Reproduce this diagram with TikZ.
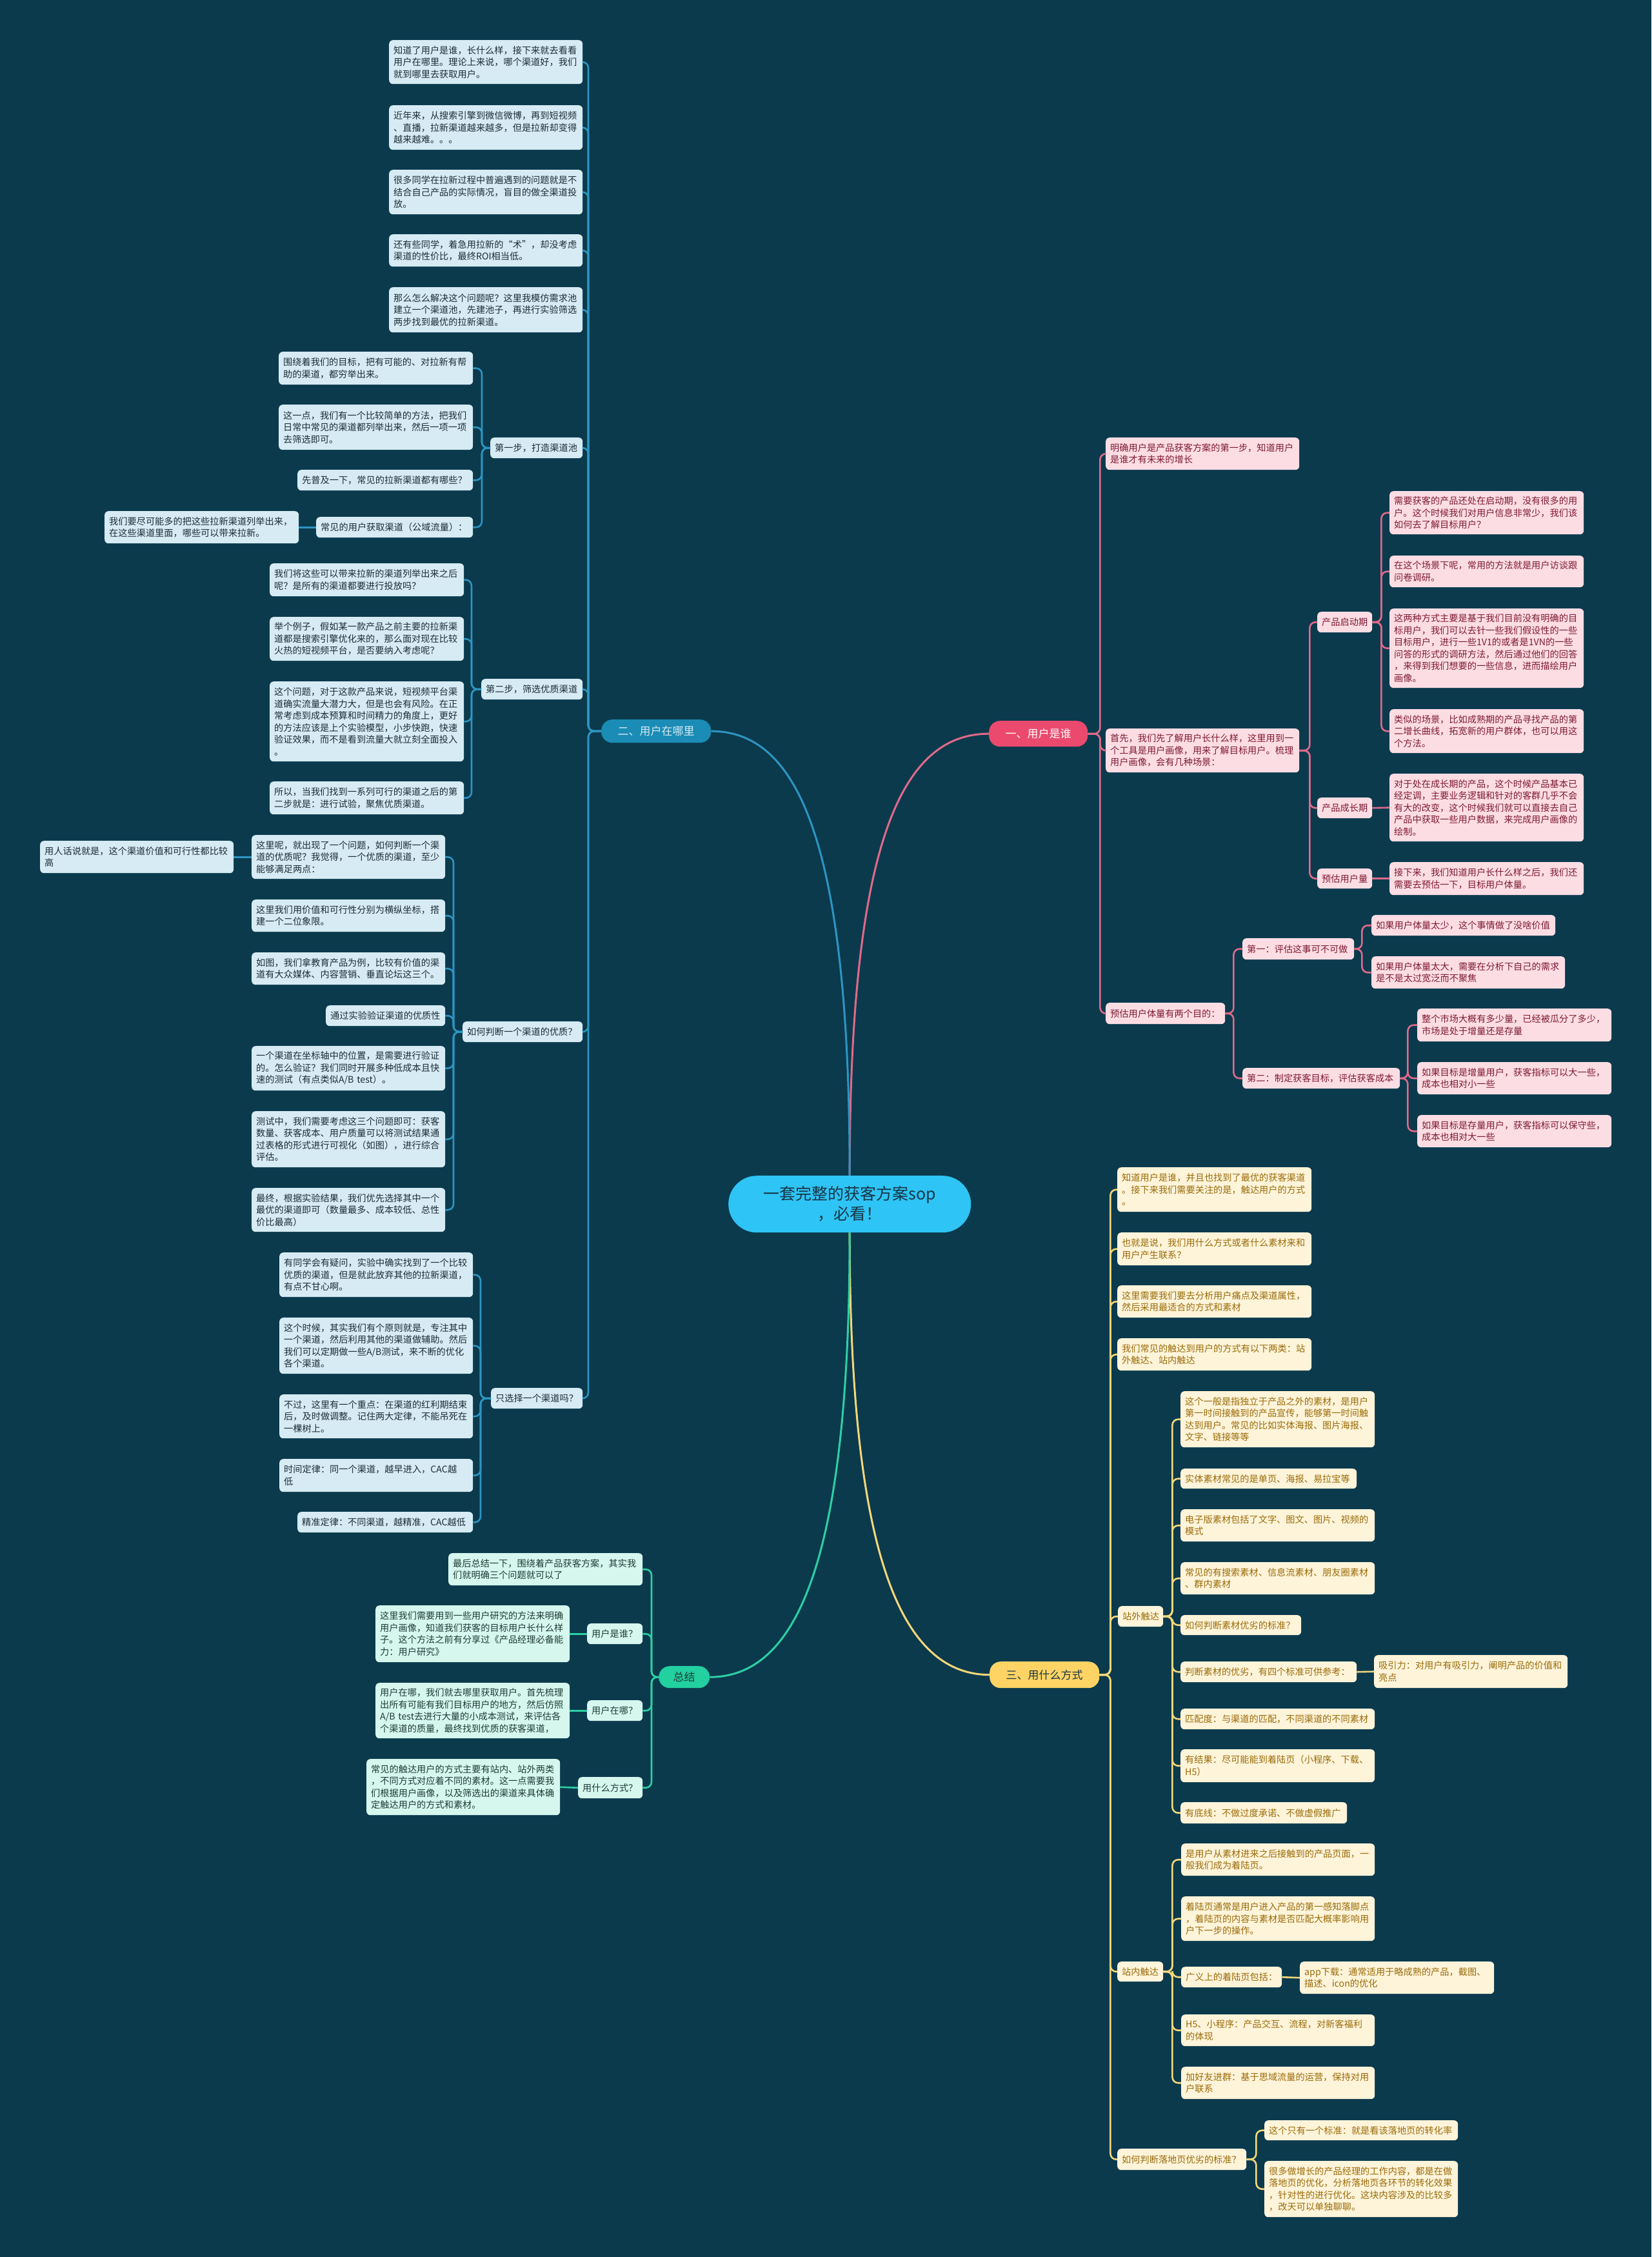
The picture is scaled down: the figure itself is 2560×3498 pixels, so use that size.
\documentclass[tikz,border=0pt]{standalone}
\usepackage{fontspec}
\setmainfont{Noto Sans CJK SC}
\definecolor{bg}{HTML}{0B3A4D}
\definecolor{bline}{HTML}{2D95C2}
\definecolor{bfill}{HTML}{D6EBF3}
\definecolor{btext}{HTML}{1D2D38}
\definecolor{bnode}{HTML}{1A8CB5}
\definecolor{pline}{HTML}{E06A8A}
\definecolor{pfill}{HTML}{FDDDE4}
\definecolor{ptext}{HTML}{7D1A33}
\definecolor{pnode}{HTML}{EB4A6E}
\definecolor{yline}{HTML}{F5D77A}
\definecolor{yfill}{HTML}{FEF4DA}
\definecolor{ytext}{HTML}{9A6B08}
\definecolor{ynode}{HTML}{FFD465}
\definecolor{gline}{HTML}{2DD0A4}
\definecolor{gfill}{HTML}{D6F7EE}
\definecolor{gtext}{HTML}{1F3B36}
\definecolor{gnode}{HTML}{22D0A0}
\definecolor{rootfill}{HTML}{2EC4F5}
\definecolor{roottext}{HTML}{173544}
\newcommand\fs{\fontsize{14.2}{18.5}\selectfont}
\newcommand\mynode[7]{\node[#1,minimum width=#5pt,minimum height=#6pt,text width=#5pt-14pt] (#2) at (#3,#4) {#7};}
\tikzset{
  boxbase/.style={anchor=north west, rounded corners=6pt, inner xsep=7pt, inner ysep=0pt, align=left, font=\fs},
  bb/.style={boxbase, fill=bfill, text=btext},
  pb/.style={boxbase, fill=pfill, text=ptext},
  yb/.style={boxbase, fill=yfill, text=ytext},
  gb/.style={boxbase, fill=gfill, text=gtext},
  branch/.style={anchor=north west, rounded corners=17pt, inner sep=0pt, align=center, font=\fontsize{17}{20}\selectfont},
  lk/.style={line width=2.6pt, rounded corners=9pt},
  bl/.style={lk, draw=bline},
  pl/.style={lk, draw=pline},
  yl/.style={lk, draw=yline},
  gl/.style={lk, draw=gline},
  rl/.style={line width=3pt},
}
\begin{document}
\begin{tikzpicture}[x=1pt,y=-1pt]
\fill[bg] (0,0) rectangle (2560,3498);
\useasboundingbox (0,0) rectangle (2560,3498);

% root
\node[anchor=north west, fill=rootfill, text=roottext, rounded corners=44pt, minimum width=376pt, minimum height=88pt, inner sep=0pt, align=center, font=\fontsize{25}{31}\selectfont] (root) at (1129,1822) {一套完整的获客方案sop\\，必看！};

% branch nodes
\node[branch, fill=pnode, text=white, minimum width=153pt, minimum height=40pt] (B1) at (1533,1117) {一、用户是谁};
\node[branch, fill=bnode, text=bfill, minimum width=170pt, minimum height=36pt] (B2) at (932,1115) {二、用户在哪里};
\node[branch, fill=ynode, text=roottext, minimum width=170pt, minimum height=41pt] (B3) at (1534,2575) {三、用什么方式};
\node[branch, fill=gnode, text=gtext, minimum width=79pt, minimum height=34pt] (B4) at (1021,2582) {总结};

% ===== blue branch =====
\mynode{bb}{b1}{603}{62}{300}{68}{知道了用户是谁，长什么样，接下来就去看看\\用户在哪里。理论上来说，哪个渠道好，我们\\就到哪里去获取用户。}
\mynode{bb}{b2}{603}{163}{300}{69}{近年来，从搜索引擎到微信微博，再到短视频\\、直播，拉新渠道越来越多，但是拉新却变得\\越来越难。。。}
\mynode{bb}{b3}{603}{263}{300}{69}{很多同学在拉新过程中普遍遇到的问题就是不\\结合自己产品的实际情况，盲目的做全渠道投\\放。}
\mynode{bb}{b4}{603}{363}{300}{50}{还有些同学，着急用拉新的“术”，却没考虑\\渠道的性价比，最终ROI相当低。}
\mynode{bb}{b5}{603}{445}{300}{70}{那么怎么解决这个问题呢？这里我模仿需求池\\建立一个渠道池，先建池子，再进行实验筛选\\两步找到最优的拉新渠道。}

\mynode{bb}{s1}{760}{678}{143}{32}{第一步，打造渠道池}
\mynode{bb}{s1a}{432}{545}{301}{51}{围绕着我们的目标，把有可能的、对拉新有帮\\助的渠道，都穷举出来。}
\mynode{bb}{s1b}{432}{627}{301}{70}{这一点，我们有一个比较简单的方法，把我们\\日常中常见的渠道都列举出来，然后一项一项\\去筛选即可。}
\mynode{bb}{s1c}{461}{728}{272}{32}{先普及一下，常见的拉新渠道都有哪些？}
\mynode{bb}{s1d}{490}{801}{243}{32}{常见的用户获取渠道（公域流量）：}
\mynode{bb}{s1d1}{162}{792}{301}{50}{我们要尽可能多的把这些拉新渠道列举出来，\\在这些渠道里面，哪些可以带来拉新。}

\mynode{bb}{s2}{746}{1052}{157}{32}{第二步，筛选优质渠道}
\mynode{bb}{s2a}{418}{873}{301}{51}{我们将这些可以带来拉新的渠道列举出来之后\\呢？是所有的渠道都要进行投放吗？}
\mynode{bb}{s2b}{418}{956}{301}{68}{举个例子，假如某一款产品之前主要的拉新渠\\道都是搜索引擎优化来的，那么面对现在比较\\火热的短视频平台，是否要纳入考虑呢？}
\mynode{bb}{s2c}{418}{1056}{301}{124}{这个问题，对于这款产品来说，短视频平台渠\\道确实流量大潜力大，但是也会有风险。在正\\常考虑到成本预算和时间精力的角度上，更好\\的方法应该是上个实验模型，小步快跑，快速\\验证效果，而不是看到流量大就立刻全面投入\\。}
\mynode{bb}{s2d}{418}{1211}{301}{51}{所以，当我们找到一系列可行的渠道之后的第\\二步就是：进行试验，聚焦优质渠道。}

\mynode{bb}{s3}{717}{1583}{186}{32}{如何判断一个渠道的优质？}
\mynode{bb}{s3a}{390}{1294}{300}{68}{这里呢，就出现了一个问题，如何判断一个渠\\道的优质呢？我觉得，一个优质的渠道，至少\\能够满足两点：}
\mynode{bb}{s3a1}{62}{1303}{300}{50}{用人话说就是，这个渠道价值和可行性都比较\\高}
\mynode{bb}{s3b}{390}{1394}{300}{50}{这里我们用价值和可行性分别为横纵坐标，搭\\建一个二位象限。}
\mynode{bb}{s3c}{390}{1476}{300}{50}{如图，我们拿教育产品为例，比较有价值的渠\\道有大众媒体、内容营销、垂直论坛这三个。}
\mynode{bb}{s3d}{505}{1558}{185}{32}{通过实验验证渠道的优质性}
\mynode{bb}{s3e}{390}{1621}{300}{69}{一个渠道在坐标轴中的位置，是需要进行验证\\的。怎么验证？我们同时开展多种低成本且快\\速的测试（有点类似A/B test）。}
\mynode{bb}{s3f}{390}{1722}{300}{87}{测试中，我们需要考虑这三个问题即可：获客\\数量、获客成本、用户质量可以将测试结果通\\过表格的形式进行可视化（如图），进行综合\\评估。}
\mynode{bb}{s3g}{390}{1841}{300}{68}{最终，根据实验结果，我们优先选择其中一个\\最优的渠道即可（数量最多、成本较低、总性\\价比最高）}

\mynode{bb}{s4}{761}{2151}{142}{32}{只选择一个渠道吗？}
\mynode{bb}{s4a}{433}{1941}{300}{69}{有同学会有疑问，实验中确实找到了一个比较\\优质的渠道，但是就此放弃其他的拉新渠道，\\有点不甘心啊。}
\mynode{bb}{s4b}{433}{2042}{300}{87}{这个时候，其实我们有个原则就是，专注其中\\一个渠道，然后利用其他的渠道做辅助。然后\\我们可以定期做一些A/B测试，来不断的优化\\各个渠道。}
\mynode{bb}{s4c}{433}{2161}{300}{68}{不过，这里有一个重点：在渠道的红利期结束\\后，及时做调整。记住两大定律，不能吊死在\\一棵树上。}
\mynode{bb}{s4d}{433}{2261}{300}{51}{时间定律：同一个渠道，越早进入，CAC越\\低}
\mynode{bb}{s4e}{461}{2343}{272}{32}{精准定律：不同渠道，越精准，CAC越低}

% ===== pink branch =====
\mynode{pb}{p1}{1714}{678}{300}{50}{明确用户是产品获客方案的第一步，知道用户\\是谁才有未来的增长}
\mynode{pb}{p2}{1714}{1129}{300}{68}{首先，我们先了解用户长什么样，这里用到一\\个工具是用户画像，用来了解目标用户。梳理\\用户画像，会有几种场景：}
\mynode{pb}{p21}{2042}{948}{85}{32}{产品启动期}
\mynode{pb}{p211}{2154}{761}{301}{67}{需要获客的产品还处在启动期，没有很多的用\\户。这个时候我们对用户信息非常少，我们该\\如何去了解目标用户？}
\mynode{pb}{p212}{2154}{861}{301}{49}{在这个场景下呢，常用的方法就是用户访谈跟\\问卷调研。}
\mynode{pb}{p213}{2154}{943}{301}{123}{这两种方式主要是基于我们目前没有明确的目\\标用户，我们可以去针一些我们假设性的一些\\目标用户，进行一些1V1的或者是1VN的一些\\问答的形式的调研方法，然后通过他们的回答\\，来得到我们想要的一些信息，进而描绘用户\\画像。}
\mynode{pb}{p214}{2154}{1099}{301}{68}{类似的场景，比如成熟期的产品寻找产品的第\\二增长曲线，拓宽新的用户群体，也可以用这\\个方法。}
\mynode{pb}{p22}{2042}{1236}{85}{32}{产品成长期}
\mynode{pb}{p221}{2154}{1199}{301}{105}{对于处在成长期的产品，这个时候产品基本已\\经定调，主要业务逻辑和针对的客群几乎不会\\有大的改变，这个时候我们就可以直接去自己\\产品中获取一些用户数据，来完成用户画像的\\绘制。}
\mynode{pb}{p23}{2042}{1346}{85}{31}{预估用户量}
\mynode{pb}{p231}{2154}{1336}{301}{51}{接下来，我们知道用户长什么样之后，我们还\\需要去预估一下，目标用户体量。}
\mynode{pb}{p3}{1714}{1554}{185}{33}{预估用户体量有两个目的：}
\mynode{pb}{p31}{1926}{1454}{173}{33}{第一：评估这事可不可做}
\mynode{pb}{p311}{2126}{1418}{285}{32}{如果用户体量太少，这个事情做了没啥价值}
\mynode{pb}{p312}{2126}{1482}{300}{50}{如果用户体量太大，需要在分析下自己的需求\\是不是太过宽泛而不聚焦}
\mynode{pb}{p32}{1926}{1655}{244}{32}{第二：制定获客目标，评估获客成本}
\mynode{pb}{p321}{2197}{1563}{301}{51}{整个市场大概有多少量，已经被瓜分了多少，\\市场是处于增量还是存量}
\mynode{pb}{p322}{2197}{1646}{301}{50}{如果目标是增量用户，获客指标可以大一些，\\成本也相对小一些}
\mynode{pb}{p323}{2197}{1728}{301}{50}{如果目标是存量用户，获客指标可以保守些，\\成本也相对大一些}

% ===== yellow branch =====
\mynode{yb}{y1}{1732}{1809}{301}{69}{知道用户是谁，并且也找到了最优的获客渠道\\。接下来我们需要关注的是，触达用户的方式\\。}
\mynode{yb}{y2}{1732}{1910}{301}{51}{也就是说，我们用什么方式或者什么素材来和\\用户产生联系？}
\mynode{yb}{y3}{1732}{1992}{301}{50}{这里需要我们要去分析用户痛点及渠道属性，\\然后采用最适合的方式和素材}
\mynode{yb}{y4}{1732}{2074}{301}{50}{我们常见的触达到用户的方式有以下两类：站\\外触达、站内触达}
\mynode{yb}{y5}{1733}{2489}{70}{32}{站外触达}
\mynode{yb}{y51}{1830}{2156}{301}{87}{这个一般是指独立于产品之外的素材，是用户\\第一时间接触到的产品宣传，能够第一时间触\\达到用户。常见的比如实体海报、图片海报、\\文字、链接等等}
\mynode{yb}{y52}{1830}{2276}{273}{31}{实体素材常见的是单页、海报、易拉宝等}
\mynode{yb}{y53}{1830}{2339}{301}{50}{电子版素材包括了文字、图文、图片、视频的\\模式}
\mynode{yb}{y54}{1830}{2421}{301}{50}{常见的有搜索素材、信息流素材、朋友圈素材\\、群内素材}
\mynode{yb}{y55}{1830}{2503}{187}{31}{如何判断素材优劣的标准？}
\mynode{yb}{y56}{1830}{2575}{273}{32}{判断素材的优劣，有四个标准可供参考：}
\mynode{yb}{y561}{2130}{2565}{300}{51}{吸引力：对用户有吸引力，阐明产品的价值和\\亮点}
\mynode{yb}{y57}{1830}{2648}{301}{32}{匹配度：与渠道的匹配，不同渠道的不同素材}
\mynode{yb}{y58}{1830}{2711}{301}{51}{有结果：尽可能能到着陆页（小程序、下载、\\H5）}
\mynode{yb}{y59}{1830}{2793}{258}{33}{有底线：不做过度承诺、不做虚假推广}
\mynode{yb}{y6}{1732}{3040}{71}{31}{站内触达}
\mynode{yb}{y61}{1831}{2857}{300}{50}{是用户从素材进来之后接触到的产品页面，一\\般我们成为着陆页。}
\mynode{yb}{y62}{1831}{2939}{300}{69}{着陆页通常是用户进入产品的第一感知落脚点\\，着陆页的内容与素材是否匹配大概率影响用\\户下一步的操作。}
\mynode{yb}{y63}{1831}{3048}{156}{32}{广义上的着陆页包括：}
\mynode{yb}{y631}{2015}{3040}{301}{50}{app下载：通常适用于略成熟的产品，截图、\\描述、icon的优化}
\mynode{yb}{y64}{1831}{3122}{300}{49}{H5、小程序：产品交互、流程，对新客福利\\的体现}
\mynode{yb}{y65}{1831}{3203}{300}{50}{加好友进群：基于思域流量的运营，保持对用\\户联系}
\mynode{yb}{y7}{1732}{3330}{200}{33}{如何判断落地页优劣的标准？}
\mynode{yb}{y71}{1960}{3286}{300}{31}{这个只有一个标准：就是看该落地页的转化率}
\mynode{yb}{y72}{1960}{3349}{300}{87}{很多做增长的产品经理的工作内容，都是在做\\落地页的优化，分析落地页各环节的转化效果\\，针对性的进行优化。这块内容涉及的比较多\\，改天可以单独聊聊。}

% ===== green branch =====
\mynode{gb}{g1}{695}{2407}{301}{50}{最后总结一下，围绕着产品获客方案，其实我\\们就明确三个问题就可以了}
\mynode{gb}{g2}{910}{2516}{86}{32}{用户是谁？}
\mynode{gb}{g21}{582}{2488}{301}{88}{这里我们需要用到一些用户研究的方法来明确\\用户画像，知道我们获客的目标用户长什么样\\子。这个方法之前有分享过《产品经理必备能\\力：用户研究》}
\mynode{gb}{g3}{910}{2635}{86}{32}{用户在哪？}
\mynode{gb}{g31}{582}{2608}{301}{86}{用户在哪，我们就去哪里获取用户。首先梳理\\出所有可能有我们目标用户的地方，然后仿照\\A/B test去进行大量的小成本测试，来评估各\\个渠道的质量，最终找到优质的获客渠道，}
\mynode{gb}{g4}{896}{2754}{100}{33}{用什么方式？}
\mynode{gb}{g41}{568}{2726}{300}{87}{常见的触达用户的方式主要有站内、站外两类\\，不同方式对应着不同的素材。这一点需要我\\们根据用户画像，以及筛选出的渠道来具体确\\定触达用户的方式和素材。}

% ===== root connectors =====
\draw[rl, draw=pline] (root.north) .. controls (1317,1300) and (1400,1137) .. (B1.west);
\draw[rl, draw=bline] (root.north) .. controls (1317,1300) and (1235,1133) .. (B2.west -| B2.east);
\draw[rl, draw=yline] (root.south) .. controls (1317,2420) and (1400,2595) .. (B3.west);
\draw[rl, draw=gline] (root.south) .. controls (1317,2420) and (1235,2599) .. (B4.east);

% ===== blue connectors =====
\foreach \c in {b1,b2,b3,b4,b5,s1,s2,s3,s4} \draw[bl] (B2.west) -- ++(-20,0) |- (\c.east);
\foreach \c in {s1a,s1b,s1c,s1d} \draw[bl] (s1.west) -- ++(-13,0) |- (\c.east);
\draw[bl] (s1d.west) -- (s1d1.east);
\foreach \c in {s2a,s2b,s2c,s2d} \draw[bl] (s2.west) -- ++(-15,0) |- (\c.east);
\foreach \c in {s3a,s3b,s3c,s3d,s3e,s3f,s3g} \draw[bl] (s3.west) -- ++(-14,0) |- (\c.east);
\draw[bl] (s3a.west) -- (s3a1.east);
\foreach \c in {s4a,s4b,s4c,s4d,s4e} \draw[bl] (s4.west) -- ++(-16,0) |- (\c.east);

% ===== pink connectors =====
\foreach \c in {p1,p2,p3} \draw[pl] (B1.east) -- ++(19,0) |- (\c.west);
\foreach \c in {p21,p22,p23} \draw[pl] (p2.east) -- ++(16,0) |- (\c.west);
\foreach \c in {p211,p212,p213,p214} \draw[pl] (p21.east) -- ++(14,0) |- (\c.west);
\draw[pl] (p22.east) -- (p221.west);
\draw[pl] (p23.east) -- (p231.west);
\foreach \c in {p31,p32} \draw[pl] (p3.east) -- ++(13,0) |- (\c.west);
\foreach \c in {p311,p312} \draw[pl] (p31.east) -- ++(12,0) |- (\c.west);
\foreach \c in {p321,p322,p323} \draw[pl] (p32.east) -- ++(12,0) |- (\c.west);

% ===== yellow connectors =====
\foreach \c in {y1,y2,y3,y4,y5,y6,y7} \draw[yl] (B3.east) -- ++(17,0) |- (\c.west);
\foreach \c in {y51,y52,y53,y54,y55,y56,y57,y58,y59} \draw[yl] (y5.east) -- ++(14,0) |- (\c.west);
\draw[yl] (y56.east) -- (y561.west);
\foreach \c in {y61,y62,y63,y64,y65} \draw[yl] (y6.east) -- ++(14,0) |- (\c.west);
\draw[yl] (y63.east) -- (y631.west);
\foreach \c in {y71,y72} \draw[yl] (y7.east) -- ++(15,0) |- (\c.west);

% ===== green connectors =====
\foreach \c in {g1,g2,g3,g4} \draw[gl] (B4.west) -- ++(-11,0) |- (\c.east);
\draw[gl] (g2.west) -- (g21.east);
\draw[gl] (g3.west) -- (g31.east);
\draw[gl] (g4.west) -- (g41.east);
\end{tikzpicture}
\end{document}
